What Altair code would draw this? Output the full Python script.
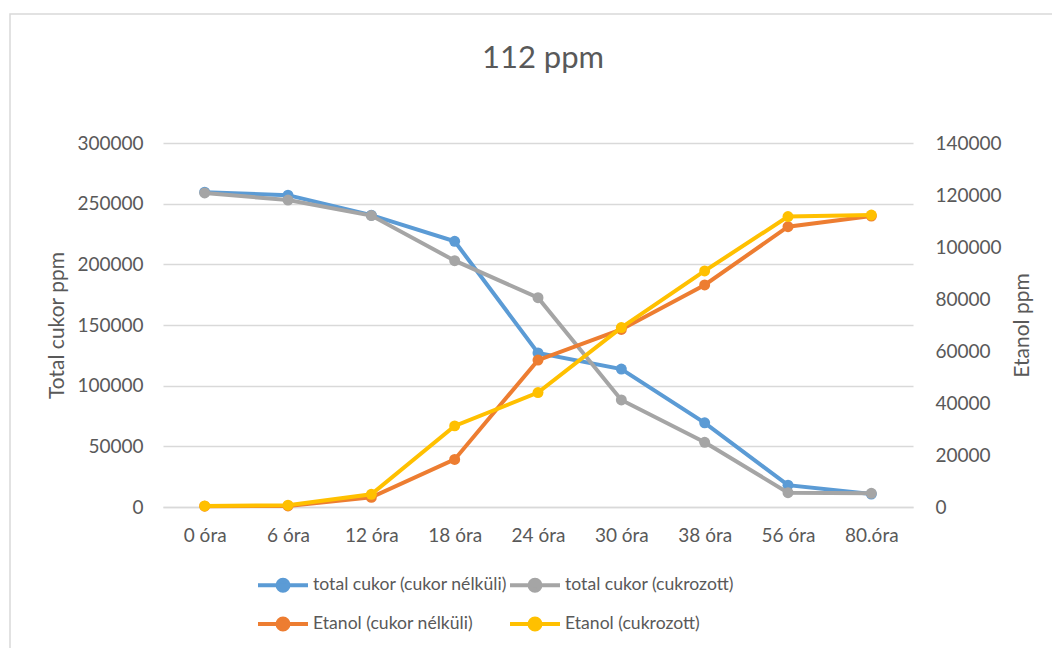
import altair as alt
import pandas as pd

categories = ["0 óra", "6 óra", "12 óra", "18 óra", "24 óra", "30 óra", "38 óra", "56 óra", "80.óra"]
series_names = ["total cukor (cukor nélküli)", "total cukor (cukrozott)",
                "Etanol (cukor nélküli)", "Etanol (cukrozott)"]
colors = ["#5B9BD5", "#A5A5A5", "#ED7D31", "#FFC000"]

cukor_nelkuli = [259500, 257000, 240500, 219000, 127000, 113700, 69400, 18000, 10700]
cukor_cukrozott = [258800, 253000, 240200, 203000, 172500, 88200, 53300, 11800, 11300]
etanol_nelkuli = [300, 400, 3700, 18300, 56500, 68300, 85400, 107800, 111900]
etanol_cukrozott = [400, 700, 4900, 31200, 44000, 69000, 90800, 111700, 112300]

left_ticks = [0, 50000, 100000, 150000, 200000, 250000, 300000]
right_ticks = [0, 20000, 40000, 60000, 80000, 100000, 120000, 140000]

FONT = "Lato"
TXT = "#595959"
GRID = "#D9D9D9"


def table(values, name):
    return pd.DataFrame({"ido": categories, "ertek": values, "sorozat": name})


x_enc = alt.X(
    "ido:N",
    sort=categories,
    scale=alt.Scale(domain=categories, padding=0.5),
    axis=alt.Axis(title=None, labelAngle=0, labelFont=FONT, labelFontSize=19,
                  labelColor=TXT, ticks=False, tickSize=0, labelPadding=19,
                  domain=True, domainColor=GRID, domainWidth=1.5, grid=False),
)

symbol_path = "M-1,0L4,0M0.95,0A0.55,0.55,0,1,0,2.05,0A0.55,0.55,0,1,0,0.95,0Z"


def make_legend():
    return alt.Legend(
        title=None, orient="none", legendX=93, legendY=430, columns=2,
        direction="horizontal",
        symbolType=symbol_path, symbolSize=400, symbolStrokeWidth=4,
        symbolOpacity=1,
        labelFont=FONT, labelFontSize=17.6, labelColor=TXT, labelOffset=33,
        labelLimit=500, rowPadding=11, columnPadding=-6,
    )


color_scale = alt.Scale(domain=series_names, range=colors)

left_axis = alt.Axis(
    values=left_ticks, format="d", title="Total cukor ppm", grid=True,
    gridColor=GRID, gridWidth=1.5, ticks=False, tickSize=0, domain=False,
    labelFont=FONT, labelFontSize=19, labelColor=TXT, labelPadding=20,
    titleFont=FONT, titleFontSize=21, titleColor=TXT, titleFontWeight="normal",
    titleX=-106, titleY=182, titleAngle=270, titleAlign="center", titleBaseline="middle",
)
right_axis = alt.Axis(
    orient="right", values=right_ticks, format="d", title="Etanol ppm", grid=False,
    ticks=False, tickSize=0, domain=False,
    labelFont=FONT, labelFontSize=19, labelColor=TXT, labelPadding=22,
    titleFont=FONT, titleFontSize=21, titleColor=TXT, titleFontWeight="normal",
    titleX=109, titleY=182, titleAngle=270, titleAlign="center", titleBaseline="middle",
)


def series_layers(values, name, domain, axis):
    base = alt.Chart(table(values, name))
    y_enc = alt.Y("ertek:Q", scale=alt.Scale(domain=domain, nice=False, zero=True), axis=axis)
    line = base.mark_line(strokeWidth=4).encode(
        x=x_enc, y=y_enc,
        stroke=alt.Stroke("sorozat:N", scale=color_scale, legend=make_legend()),
    )
    pts = base.mark_circle(size=120, opacity=1).encode(
        x=x_enc,
        y=alt.Y("ertek:Q", scale=alt.Scale(domain=domain, nice=False, zero=True), axis=None),
        fill=alt.Fill("sorozat:N", scale=color_scale, legend=make_legend()),
    )
    return [line, pts]


layers = []
layers += series_layers(cukor_nelkuli, series_names[0], [0, 300000], left_axis)
layers += series_layers(cukor_cukrozott, series_names[1], [0, 300000], None)
layers += series_layers(etanol_nelkuli, series_names[2], [0, 140000], right_axis)
layers += series_layers(etanol_cukrozott, series_names[3], [0, 140000], None)

frame = alt.Chart(pd.DataFrame({"k": [0]})).mark_rect(
    fillOpacity=0, stroke=GRID, strokeWidth=1.5
).encode(
    x=alt.value(-153), x2=alt.value(900), y=alt.value(-129), y2=alt.value(520)
)

chart = alt.layer(frame, *layers).resolve_scale(
    y="independent"
).properties(
    width=750, height=364,
    title=alt.TitleParams("112 ppm", font=FONT, fontSize=31, fontWeight="normal",
                          color=TXT, anchor="middle", offset=-93, baseline="bottom",
                          frame="group", dx=5),
    padding={"left": 163, "top": 143, "right": 139, "bottom": 141},
    autosize=alt.AutoSizeParams(type="none"),
    background="white",
).configure_view(stroke=None)

chart.save("out.html", embed_options={"renderer": "svg", "actions": False})
